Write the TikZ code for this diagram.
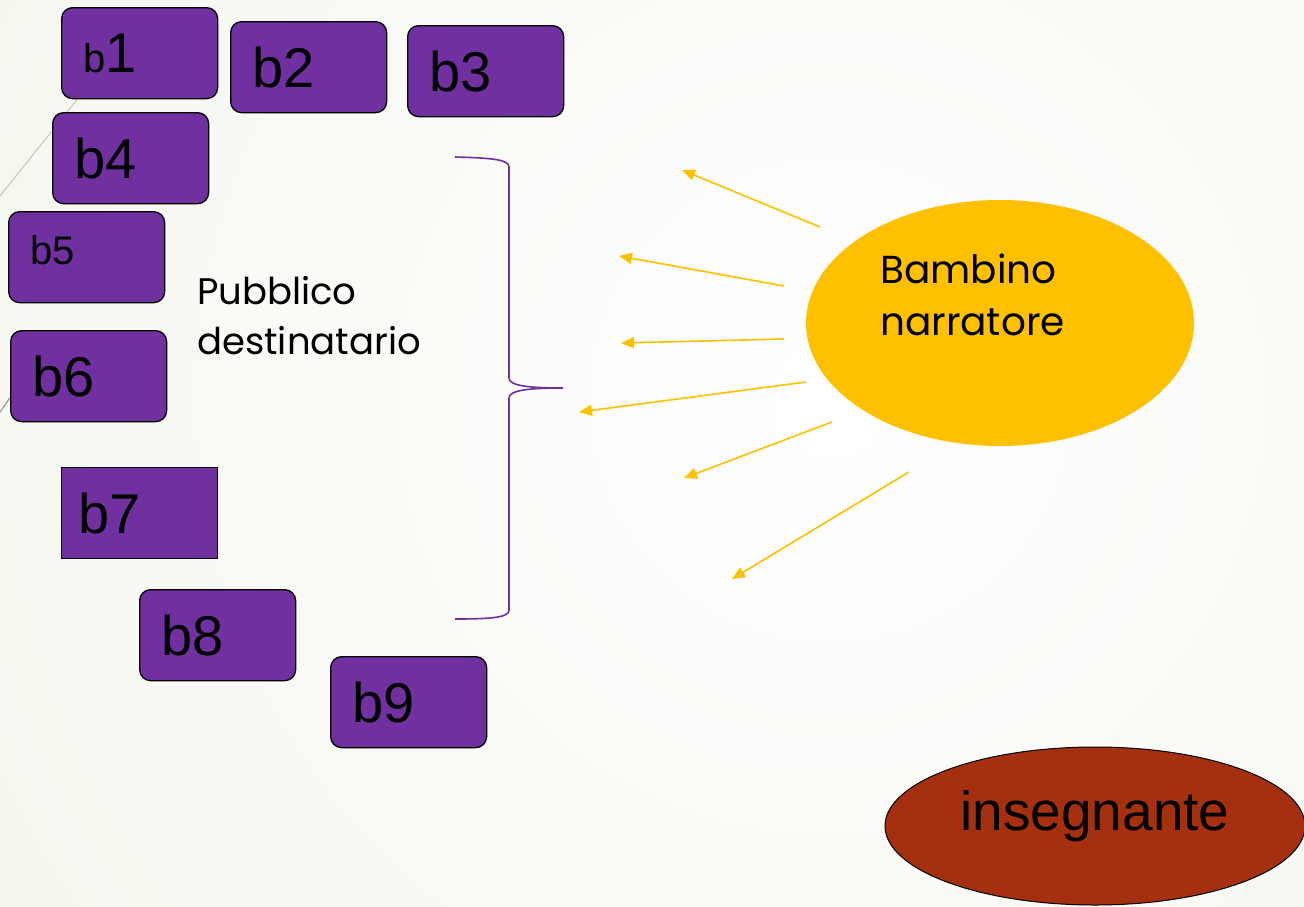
\documentclass[tikz,border=0pt]{standalone}
\usepackage{fontspec}
\setmainfont{Liberation Sans}
\newfontfamily\gothicfont{Poppins}
\usetikzlibrary{arrows.meta,shapes.geometric,positioning}

\definecolor{slidebg}{HTML}{F3F5EB}
\definecolor{boxpurple}{HTML}{7030A0}
\definecolor{sunyellow}{HTML}{FFC000}
\definecolor{teacherred}{HTML}{A5300F}
\definecolor{wisp}{HTML}{C4C6BA}

\begin{document}
\begin{tikzpicture}[
  x=1pt, y=-1pt,
  kid/.style={rectangle, draw=black, line width=1.3pt, fill=boxpurple, rounded corners=11pt,
    minimum width=156pt, minimum height=91pt, text width=112pt, inner xsep=22pt, inner ysep=0pt,
    align=left, anchor=north west, font=\fontsize{56}{56}\selectfont},
  ray/.style={draw=sunyellow, line width=1.6pt, -{Triangle[length=13pt,width=11pt]}},
  caption/.style={inner sep=0pt, align=left, anchor=north west, font=\gothicfont\fontsize{37}{50}\selectfont}
]
\useasboundingbox (0,0) rectangle (1304,906);
\fill[slidebg] (0,0) rectangle (1304,906);
\shade[inner color=white, outer color=slidebg] (830,400) circle (1150pt);
\draw[wisp, line width=1pt] (0,196) -- (80,96);
\draw[wisp!70!black, line width=1pt] (0,412) -- (14,392);

% pubblico
\node[kid] (b1) at (61,7) {{\fontsize{40}{40}\selectfont b}1};
\node[kid] (b2) at (230,21) {b2};
\node[kid] (b3) at (407,25) {b3};
\node[kid] (b4) at (52,112) {b4};
\node[kid, font=\fontsize{40}{40}\selectfont, text depth=14pt] (b5) at (8,211) {b5};
\node[kid] (b6) at (10,330) {b6};
\node[kid, rounded corners=0pt, inner xsep=17pt, text width=122pt] (b7) at (61,467) {b7};
\node[kid] (b8) at (139,589) {b8};
\node[kid] (b9) at (330,656) {b9};

\node[caption] (audience) at (197,276) {Pubblico\\destinatario};

\draw[boxpurple, line width=1.6pt] (455,157) .. controls (495,158) and (509,160) .. (509,167)
  -- (509,378) .. controls (509,386) and (530,388) .. (563,388)
  .. controls (530,388) and (509,390) .. (509,398)
  -- (509,610) .. controls (509,617) and (495,619) .. (455,619);

% narratore
\node[ellipse, fill=sunyellow, minimum width=388pt, minimum height=246pt, inner sep=0pt] (narrator) at (1000,323) {};
\node[caption, font=\gothicfont\fontsize{39}{52}\selectfont] (narrtext) at (880,254) {Bambino\\narratore};

\coordinate (s1) at (820,227); \coordinate (t1) at (682,170);
\coordinate (s2) at (784,286); \coordinate (t2) at (619,256);
\coordinate (s3) at (784,339); \coordinate (t3) at (621,343);
\coordinate (s4) at (806,382); \coordinate (t4) at (579,412);
\coordinate (s5) at (832,422); \coordinate (t5) at (684,478);
\coordinate (s6) at (909,472); \coordinate (t6) at (732,579);

\draw[ray] (s1) -- (t1);
\draw[ray] (s2) -- (t2);
\draw[ray] (s3) -- (t3);
\draw[ray] (s4) -- (t4);
\draw[ray] (s5) -- (t5);
\draw[ray] (s6) -- (t6);

% insegnante
\node[ellipse, draw=black, line width=1pt, fill=teacherred, minimum width=420pt, minimum height=158pt,
  inner sep=0pt, text depth=31pt, font=\fontsize{55}{55}\selectfont] (teacher) at (1095,826) {insegnante};
\end{tikzpicture}
\end{document}
